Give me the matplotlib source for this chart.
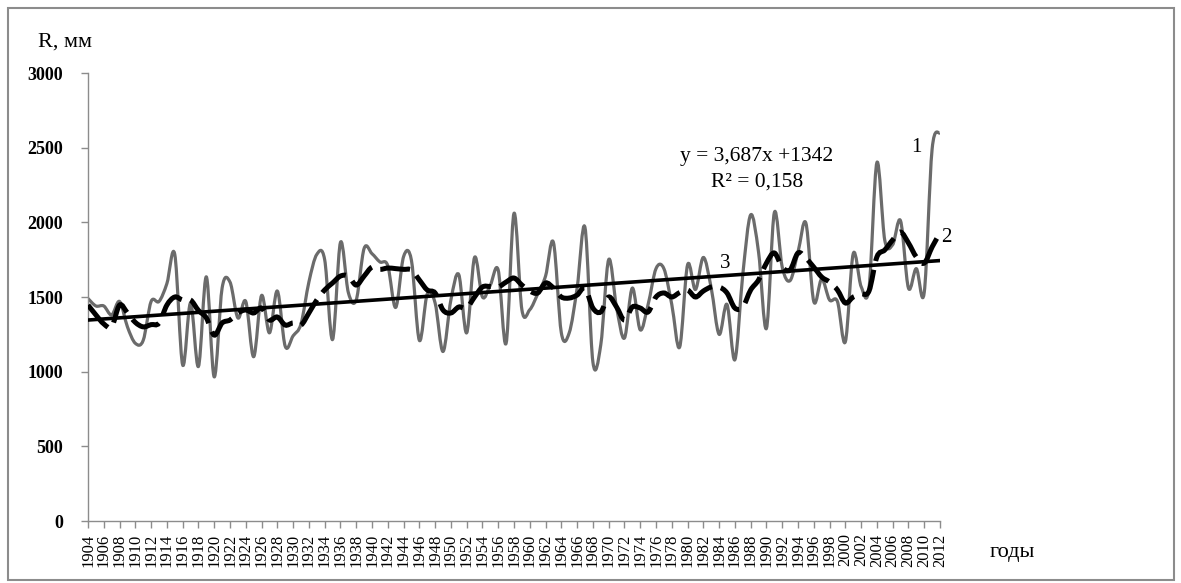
import matplotlib.pyplot as plt
from matplotlib.patches import Rectangle, PathPatch
from matplotlib.path import Path
import numpy as np

plt.rcParams["font.family"] = ["Liberation Serif", "DejaVu Serif"]

years = list(range(1904, 2013))

# annual runoff R, mm (curve 1)
runoff = [
    1490, 1440, 1440, 1380, 1470, 1300, 1190, 1210, 1470, 1470,  # 1904-1913
    1590, 1785, 1045, 1460, 1035, 1635, 965, 1560, 1600, 1360,    # 1914-1923
    1470, 1100, 1510, 1260, 1540, 1170, 1240, 1320, 1600, 1785,   # 1924-1933
    1750, 1215, 1865, 1530, 1480, 1825, 1790, 1735, 1710, 1430,   # 1934-1943
    1770, 1745, 1210, 1520, 1460, 1135, 1480, 1650, 1260, 1765,   # 1944-1953
    1500, 1580, 1680, 1190, 2060, 1415, 1415, 1520, 1640, 1865,   # 1954-1963
    1260, 1260, 1560, 1965, 1065, 1180, 1750, 1430, 1225, 1560,   # 1964-1973
    1280, 1450, 1690, 1690, 1450, 1165, 1715, 1550, 1765, 1560,   # 1974-1983
    1250, 1450, 1080, 1650, 2050, 1800, 1290, 2065, 1700, 1610,   # 1984-1993
    1800, 1995, 1470, 1620, 1480, 1470, 1200, 1790, 1570, 1560,   # 1994-2003
    2400, 1880, 1850, 2010, 1560, 1690, 1530, 2490, 2600,         # 2004-2012
]

# moving average (curve 2)
moving = [
    1446, 1380, 1320, 1300, 1446, 1393, 1330, 1300, 1315, 1325,
    1446, 1500, 1480, 1480, 1410, 1360, 1245, 1326, 1346, 1393,
    1413, 1393, 1426, 1346, 1366, 1312, 1326, 1312, 1393, 1480,
    1547, 1594, 1640, 1640, 1580, 1640, 1700, 1685, 1694, 1690,
    1685, 1681, 1614, 1547, 1527, 1413, 1393, 1433, 1426, 1500,
    1567, 1570, 1567, 1600, 1627, 1580, 1540, 1527, 1594, 1560,
    1500, 1493, 1513, 1560, 1426, 1400, 1500, 1433, 1346, 1433,
    1426, 1400, 1500, 1527, 1500, 1530, 1547, 1500, 1540, 1567,
    1567, 1527, 1426, 1433, 1547, 1614, 1727, 1795, 1700, 1681,
    1795, 1760, 1700, 1634, 1600, 1547, 1460, 1500, 1520, 1540,
    1768, 1815, 1882, 1935, 1862, 1768, 1727, 1835, 1929,
]

# linear trend (curve 3): y = 3,687x + 1342, x = 1..N
slope = 3.687
intercept = 1342

yticks = [0, 500, 1000, 1500, 2000, 2500, 3000]
xtick_years = years[::2]


def smooth_path(xs, ys):
    """Excel-like smoothed line: Catmull-Rom segments as cubic Beziers."""
    p = np.column_stack([xs, ys]).astype(float)
    verts = [p[0]]
    codes = [Path.MOVETO]
    n = len(p)
    for i in range(n - 1):
        p0 = p[max(i - 1, 0)]
        p1, p2 = p[i], p[i + 1]
        p3 = p[min(i + 2, n - 1)]
        verts += [p1 + (p2 - p0) / 6, p2 - (p3 - p1) / 6, p2]
        codes += [Path.CURVE4] * 3
    return Path(verts, codes)


fig = plt.figure(figsize=(11.81, 5.83), dpi=100)
ax = fig.add_axes([88 / 1181, 1 - 521 / 583, (940 - 88) / 1181, (521 - 73) / 583])

ax.add_patch(PathPatch(smooth_path(years, runoff), fill=False, edgecolor="#6b6b6b",
                       lw=2.3, joinstyle="round", zorder=2))
ax.add_patch(PathPatch(smooth_path(years, moving), fill=False, edgecolor="black",
                       lw=3.6, linestyle=(0, (6, 1.8)), zorder=3))
idx = np.arange(1, len(years) + 1)
ax.plot(years, slope * idx + intercept, color="black", lw=2.6, zorder=4)

ax.set_xlim(years[0], years[-1])
ax.set_ylim(0, 3000)
ax.set_yticks(yticks)
ax.set_yticklabels([str(v) for v in yticks], fontsize=13, fontweight="bold")
ax.set_xticks(xtick_years)
ax.set_xticklabels([str(y) for y in xtick_years], rotation=90, fontsize=12)

for s in ["top", "right"]:
    ax.spines[s].set_visible(False)
for s in ["left", "bottom"]:
    ax.spines[s].set_color("#8c8c8c")
    ax.spines[s].set_linewidth(1.0)
ax.tick_params(axis="both", colors="#8c8c8c", length=5, width=1.0, labelcolor="black")
ax.tick_params(axis="y", pad=13)
ax.tick_params(axis="x", pad=4)

fig.text(38 / 1181, 1 - 42 / 583, "R, мм", fontsize=16, va="center", ha="left")
fig.text(990 / 1181, 1 - 553 / 583, "годы", fontsize=16, va="center", ha="left")
fig.text(757 / 1181, 1 - 157 / 583, "y = 3,687x +1342", fontsize=15.5, ha="center", va="center")
fig.text(757 / 1181, 1 - 182 / 583, "R² = 0,158", fontsize=15.5, ha="center", va="center")
fig.text(916 / 1181, 1 - 147 / 583, "1", fontsize=15, ha="center", va="center")
fig.text(946 / 1181, 1 - 237 / 583, "2", fontsize=15, ha="center", va="center")
fig.text(725 / 1181, 1 - 263 / 583, "3", fontsize=15, ha="center", va="center")

fig.patches.append(Rectangle((8 / 1181, 3 / 583), 1166 / 1181, 572 / 583,
                             transform=fig.transFigure, fill=False,
                             edgecolor="#8c8c8c", lw=1.5))

fig.savefig("out.png", dpi=100)
